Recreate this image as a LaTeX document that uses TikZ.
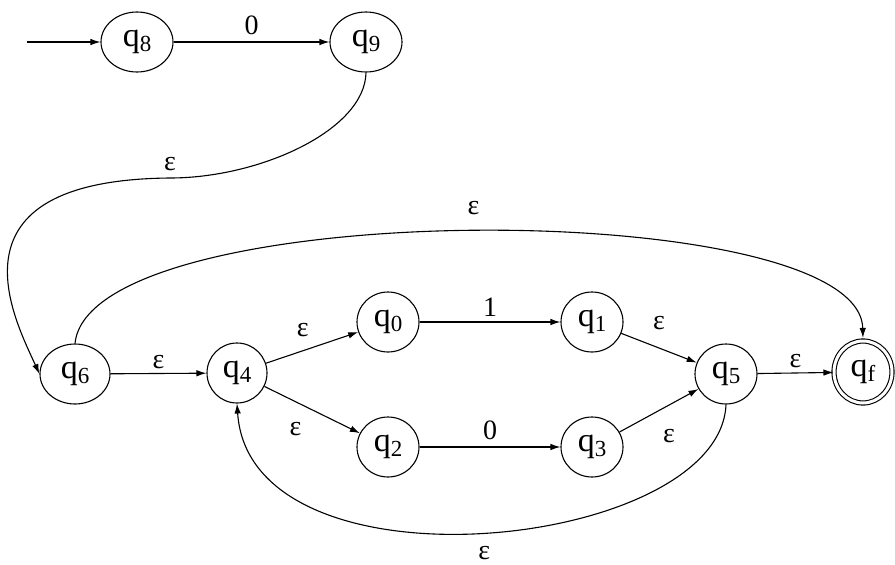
\documentclass[tikz,border=0pt]{standalone}
\usepackage{fontspec}
\setmainfont{Liberation Serif}
\usetikzlibrary{arrows.meta, shapes.geometric}
\newcommand{\qs}[1]{q\raisebox{-0.3ex}{\fontsize{23}{23}\selectfont #1}}

\begin{document}
\begin{tikzpicture}[x=1pt,y=-1pt,
    st/.style={draw,ellipse,line width=1.1pt,inner sep=0pt,
      minimum width=62pt,minimum height=60pt,font=\rmfamily\fontsize{34}{34}\selectfont},
    ed/.style={-{Latex[length=10pt,width=6.5pt]},line width=1.1pt},
    lab/.style={font=\rmfamily\fontsize{28}{28}\selectfont}]
  \useasboundingbox (0,0) rectangle (895,565);
  % states
  \node[st,minimum width=72pt] (q8) at (137,42) {\qs{8}};
  \node[st,minimum width=72pt] (q9) at (366,42) {\qs{9}};
  \node[st,minimum width=70pt] (q6) at (75,374) {\qs{6}};
  \node[st,minimum width=60pt] (q4) at (237,373) {\qs{4}};
  \node[st] (q0) at (388,322) {\qs{0}};
  \node[st] (q1) at (592,322) {\qs{1}};
  \node[st] (q2) at (388,447) {\qs{2}};
  \node[st] (q3) at (592,447) {\qs{3}};
  \node[st] (q5) at (726,374) {\qs{5}};
  \node[st,double,double distance=3pt,minimum width=58pt,minimum height=62pt]
    (qf) at (863,372) {\qs{f}};
  \coordinate (start) at (27,42);
  \coordinate (m96) at (170,178);
  % transitions
  \draw[ed] (start) -- (q8);
  \draw[ed] (q8) -- node[lab,above=3pt]{0} (q9);
  \draw[ed] (q9.south) .. controls (365,130) and (260,178) .. (m96)
    node[lab,above=3pt]{ε}
    .. controls (-60,180) and (15,320) .. (q6.west);
  \draw[ed] (q6) -- node[lab,above=1pt]{ε} (q4);
  \draw[ed] (q4) -- node[lab,pos=0.4,above=10pt]{ε} (q0);
  \draw[ed] (q4) -- node[lab,pos=0.4,below=13pt,xshift=-7pt]{ε} (q2);
  \draw[ed] (q0) -- node[lab,above=2pt]{1} (q1);
  \draw[ed] (q2) -- node[lab,above=3pt]{0} (q3);
  \draw[ed] (q1) -- node[lab,above=14pt]{ε} (q5);
  \draw[ed] (q3) -- node[lab,below=15pt,xshift=10pt]{ε} (q5);
  \draw[ed] (q5) -- node[lab,above=1pt]{ε} (qf);
  \draw[ed,shorten >=2.5pt] (q6.north) .. controls (90,195) and (860,195) .. (qf.north)
    node[lab,pos=0.5,above=13pt]{ε};
  \draw[ed] (q5.south) .. controls (720,550) and (250,600) .. (q4.south)
    node[lab,pos=0.5,below=10pt]{ε};
\end{tikzpicture}
\end{document}
